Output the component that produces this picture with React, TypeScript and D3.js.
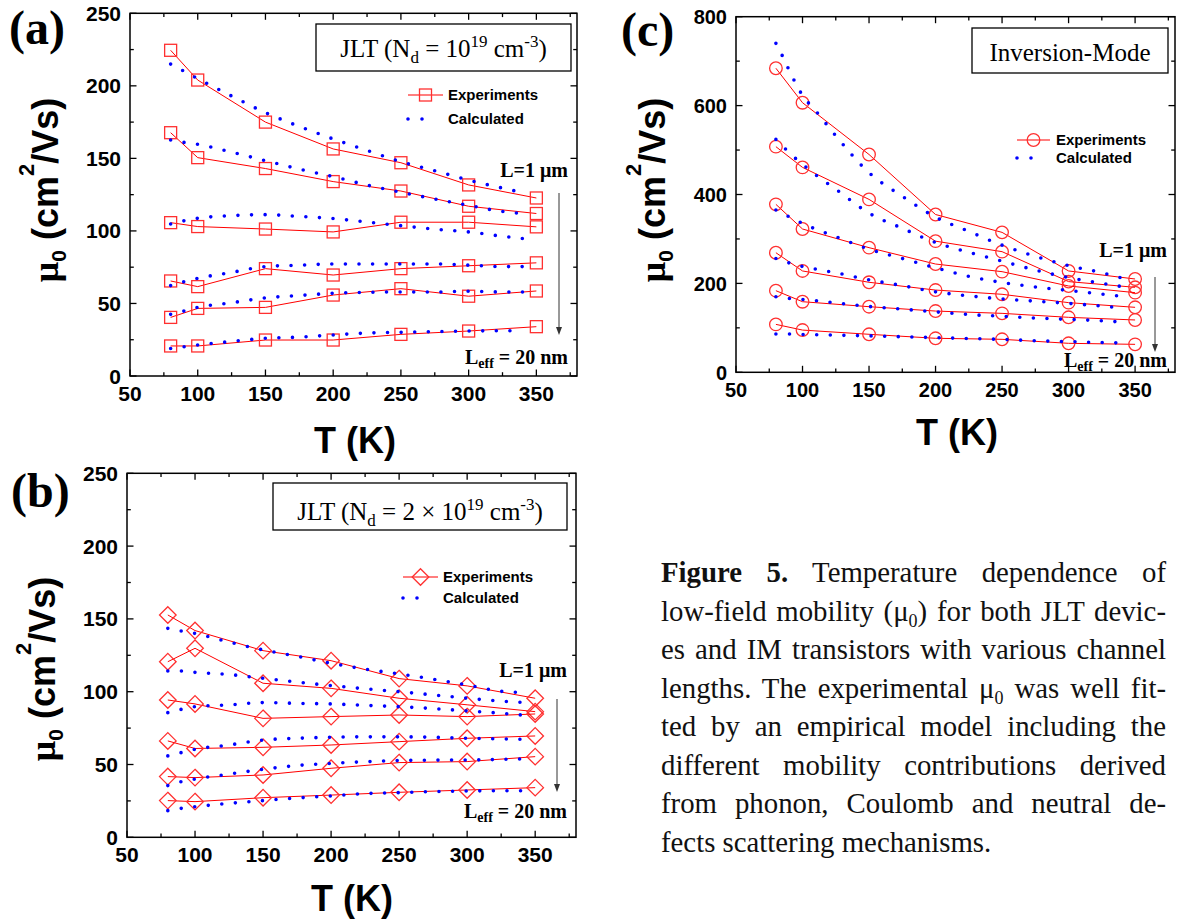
import React, { useLayoutEffect, useRef } from 'react';
import * as d3 from 'd3';

// ---------------- DATA ----------------
const expT = [80, 100, 150, 200, 250, 300, 350];
const calcTab = [80, 90, 100, 125, 150, 175, 200, 225, 250, 275, 300, 325, 340];
const calcTc = [80, 85, 90, 100, 110, 125, 150, 175, 200, 225, 250, 275, 300, 325, 340];

const xTickValues = [50, 100, 150, 200, 250, 300, 350];
const xMinorValues = [75, 125, 175, 225, 275, 325, 375];
const yTicksAB = [0, 50, 100, 150, 200, 250];
const yMinorAB = [25, 75, 125, 175, 225];
const yTicksC = [0, 200, 400, 600, 800];
const yMinorC = [100, 300, 500, 700];

// Panel (a) JLT Nd = 1e19
const aExp = [
  [224.5, 204, 175, 156.5, 147, 131.7, 122.7],
  [167.7, 150.5, 143, 134, 127.5, 117, 112],
  [105.7, 103, 101.3, 99.3, 106, 106, 102.8],
  [65.5, 61.6, 74, 69.6, 74, 76, 78],
  [40.4, 46.6, 47.3, 55.8, 60.2, 55, 58.6],
  [20.7, 20.7, 24.8, 24.8, 28.7, 31, 34],
];
const aCalc = [
  [215, 210, 205, 193, 181.5, 172, 163.4, 155.5, 147.7, 141.5, 135, 129.5, 126.4],
  [162.7, 161, 159.7, 154.3, 148.4, 142.6, 137.4, 131.6, 126.6, 122, 117.6, 113.4, 112],
  [104.8, 107, 108.7, 110.5, 111.2, 110, 108.5, 106.1, 103.6, 101.2, 99.3, 96.3, 94.7],
  [62.3, 65, 67.3, 71.4, 75.4, 76.4, 77.2, 77.2, 77.2, 77.2, 76.4, 75.4, 75.4],
  [42.5, 44.8, 47.3, 50.5, 53.8, 55.5, 57, 57.7, 57.9, 57.9, 58.4, 57.9, 57.9],
  [19, 20.2, 21.4, 23.8, 26, 26.8, 28.3, 29.6, 30.1, 30.6, 31, 31.2, 31.2],
];

// Panel (b) JLT Nd = 2e19
const bExp = [
  [152.7, 142, 128.2, 121.3, 109, 104, 95.5],
  [120.6, 129.8, 105.8, 102.3, 95.5, 91, 86.3],
  [94.3, 91.6, 81.7, 82.9, 84, 82.9, 84.7],
  [66.2, 61, 61.8, 63.4, 65.7, 68, 69.6],
  [41.7, 41, 42.8, 47.4, 51.3, 52, 55.4],
  [25.2, 24.5, 27.2, 29, 30.9, 32.5, 34.1],
];
const bCalc = [
  [143.5, 141.7, 140, 134.1, 128.7, 124.3, 119.5, 115.5, 112.2, 108.6, 104.6, 100.3, 99.4],
  [114.2, 114.2, 113.3, 111.8, 109.2, 106.6, 104.2, 102, 100, 97.8, 95.5, 93.5, 92.7],
  [85.6, 87.9, 89.7, 90.9, 92.5, 92, 91.6, 90.6, 89.7, 88.4, 86.8, 85.2, 84],
  [55.9, 58.2, 60.4, 63.4, 66.8, 68, 68.7, 69, 69, 68.7, 68, 67.6, 67.3],
  [35.5, 38.2, 40, 43.4, 46.7, 49.3, 50.8, 51.9, 52.7, 53, 53.1, 53.5, 53.8],
  [18.3, 19.9, 21, 23.3, 25.2, 27, 28.4, 30, 30.7, 31.4, 31.8, 32, 32],
];

// Panel (c) Inversion-Mode
const cExp = [
  [684, 606.5, 490, 355, 314.8, 228, 209.9],
  [507.6, 461, 389, 295, 271.4, 204, 191.2],
  [377.8, 322.4, 280.4, 243.6, 226.4, 194.2, 179.2],
  [269, 228, 202.5, 185, 175.5, 156.7, 146.2],
  [183.6, 158.8, 147.6, 137.8, 132.6, 123.7, 117.7],
  [107.8, 95, 85.5, 76.5, 74.2, 65.2, 62.9],
];
const cCalc = [
  [740, 711, 679, 623, 588, 532, 449, 396, 349, 317, 286, 261, 240, 224, 212],
  [524, 509, 494, 468, 444, 412, 358, 324, 292, 270, 250, 230, 213, 200, 193],
  [365, 357, 350, 335, 322, 305, 277, 256, 235, 216, 202, 192, 184, 176, 171],
  [256, 251, 246, 238, 232, 224, 208, 195, 181, 172, 165, 160, 155, 149, 145],
  [170, 168, 166, 164, 161, 156, 148, 142, 136, 130, 126, 122, 119, 116, 113],
  [86, 86, 86, 85, 84.5, 83.5, 82, 80, 78, 76, 74, 71, 69, 67, 66],
];

const legendLabels = ['Experiments', 'Calculated'];

// ---------------- STYLE ----------------
const SANS = '"Liberation Sans", Arial, sans-serif';
const SERIF = '"Liberation Serif", "Times New Roman", serif';
const RED = '#ff0000';
const MRED = '#ff3030';
const BLUE = '#0000ff';

type Cfg = {
  left: number; right: number; top: number; bottom: number;
  yMax: number; yTicks: number[]; yMinor: number[];
  exp: number[][]; calc: number[][]; calcT: number[];
  marker: 'square' | 'diamond' | 'circle';
  label: string; labelX: number; labelY: number;
  box: { x: number; y: number; w: number; h: number; ty: number; kind: 'a' | 'b' | 'c' };
  leg: { x1: number; x2: number; y1: number; y2: number; tx: number };
  l1: { x: number; y: number };
  arrow: { x: number; y1: number; y2: number };
  leff: { x: number; y: number };
  xTitle: { x: number; y: number };
  yTitle: { x: number; y: number };
  tickFont: number;
};

function Marker({ type, cx, cy }: { type: string; cx: number; cy: number }) {
  const common = { fill: 'none', stroke: MRED, strokeWidth: 1.3 };
  if (type === 'square') return <rect x={cx - 6} y={cy - 6} width={12} height={12} {...common} />;
  if (type === 'diamond') {
    const s = 8.3;
    return <path d={`M${cx},${cy - s}L${cx + s},${cy}L${cx},${cy + s}L${cx - s},${cy}Z`} {...common} />;
  }
  return <circle cx={cx} cy={cy} r={6.3} {...common} />;
}

function BoxText({ kind, x, y }: { kind: string; x: number; y: number }) {
  const fs = 25;
  const sub = 17;
  if (kind === 'c') {
    return (
      <text x={x} y={y} textAnchor="middle" fontFamily={SERIF} fontSize={fs}>Inversion-Mode</text>
    );
  }
  return (
    <text x={x} y={y} textAnchor="middle" fontFamily={SERIF} fontSize={fs}>
      <tspan>JLT (N</tspan>
      <tspan fontSize={sub} dy={6}>d</tspan>
      <tspan dy={-6}>{kind === 'a' ? ' = 10' : ' = 2 \u00D7 10'}</tspan>
      <tspan fontSize={sub} dy={-10}>19</tspan>
      <tspan dy={10}> cm</tspan>
      <tspan fontSize={sub} dy={-10}>-3</tspan>
      <tspan dy={10}>)</tspan>
    </text>
  );
}

function Panel({ cfg }: { cfg: Cfg }) {
  const x = d3.scaleLinear().domain([50, 380]).range([cfg.left, cfg.right]);
  const y = d3.scaleLinear().domain([0, cfg.yMax]).range([cfg.bottom, cfg.top]);
  const lineExp = d3.line<number>().x((_, i) => x(expT[i])).y((d) => y(d));
  const lineCalc = d3
    .line<number>()
    .x((_, i) => x(cfg.calcT[i]))
    .y((d) => y(d))
    .curve(d3.curveMonotoneX);
  const MAJ = 6.5;
  const MIN = 3.8;
  const tickStroke = { stroke: '#000', strokeWidth: 1.3 };
  const dotStyle = {
    fill: 'none', stroke: BLUE, strokeWidth: 3.6, strokeLinecap: 'round' as const, strokeDasharray: '0 13.6',
  };

  return (
    <g>
      <rect x={cfg.left} y={cfg.top} width={cfg.right - cfg.left} height={cfg.bottom - cfg.top}
        fill="none" stroke="#000" strokeWidth={1.5} />
      {xTickValues.map((t) => (
        <g key={'xt' + t}>
          <line x1={x(t)} x2={x(t)} y1={cfg.bottom} y2={cfg.bottom - MAJ} {...tickStroke} />
          <line x1={x(t)} x2={x(t)} y1={cfg.top} y2={cfg.top + MAJ} {...tickStroke} />
          <text x={x(t)} y={cfg.bottom + 25} textAnchor="middle" fontFamily={SANS} fontWeight="bold"
            fontSize={cfg.tickFont}>{t}</text>
        </g>
      ))}
      {xMinorValues.map((t) => (
        <g key={'xm' + t}>
          <line x1={x(t)} x2={x(t)} y1={cfg.bottom} y2={cfg.bottom - MIN} {...tickStroke} />
          <line x1={x(t)} x2={x(t)} y1={cfg.top} y2={cfg.top + MIN} {...tickStroke} />
        </g>
      ))}
      {cfg.yTicks.map((t) => (
        <g key={'yt' + t}>
          <line x1={cfg.left} x2={cfg.left + MAJ} y1={y(t)} y2={y(t)} {...tickStroke} />
          <line x1={cfg.right} x2={cfg.right - MAJ} y1={y(t)} y2={y(t)} {...tickStroke} />
          <text x={cfg.left - 9} y={y(t)} dy="0.36em" textAnchor="end" fontFamily={SANS} fontWeight="bold"
            fontSize={cfg.tickFont}>{t}</text>
        </g>
      ))}
      {cfg.yMinor.map((t) => (
        <g key={'ym' + t}>
          <line x1={cfg.left} x2={cfg.left + MIN} y1={y(t)} y2={y(t)} {...tickStroke} />
          <line x1={cfg.right} x2={cfg.right - MIN} y1={y(t)} y2={y(t)} {...tickStroke} />
        </g>
      ))}

      {cfg.exp.map((s, si) => (
        <g key={'e' + si}>
          <path d={lineExp(s) || ''} fill="none" stroke={RED} strokeWidth={1} />
          {s.map((v, i) => (
            <Marker key={i} type={cfg.marker} cx={x(expT[i])} cy={y(v)} />
          ))}
        </g>
      ))}
      {cfg.calc.map((s, si) => (
        <path key={'c' + si} d={lineCalc(s) || ''} {...dotStyle} />
      ))}

      <rect x={cfg.box.x} y={cfg.box.y} width={cfg.box.w} height={cfg.box.h} fill="#fff" stroke="#000"
        strokeWidth={1.3} />
      <BoxText kind={cfg.box.kind} x={cfg.box.x + cfg.box.w / 2} y={cfg.box.ty} />

      <line x1={cfg.leg.x1} x2={cfg.leg.x2} y1={cfg.leg.y1} y2={cfg.leg.y1} stroke={RED} strokeWidth={1.2} />
      <Marker type={cfg.marker} cx={(cfg.leg.x1 + cfg.leg.x2) / 2} cy={cfg.leg.y1} />
      <text x={cfg.leg.tx} y={cfg.leg.y1 + 5} fontFamily={SANS} fontWeight="bold" fontSize={15}>{legendLabels[0]}</text>
      <path d={`M${cfg.leg.x1},${cfg.leg.y2}L${cfg.leg.x1 + 28},${cfg.leg.y2}`} {...dotStyle} strokeDasharray="0 14" />
      <text x={cfg.leg.tx} y={cfg.leg.y2 + 5} fontFamily={SANS} fontWeight="bold" fontSize={15}>{legendLabels[1]}</text>

      <text x={cfg.l1.x} y={cfg.l1.y} textAnchor="end" fontFamily={SERIF} fontWeight="bold" fontSize={20}>L=1 μm</text>
      <line x1={cfg.arrow.x} x2={cfg.arrow.x} y1={cfg.arrow.y1} y2={cfg.arrow.y2 - 6} stroke="#333" strokeWidth={1} />
      <path d={`M${cfg.arrow.x - 3},${cfg.arrow.y2 - 8}L${cfg.arrow.x + 3},${cfg.arrow.y2 - 8}L${cfg.arrow.x},${cfg.arrow.y2}Z`} fill="#333" />
      <text x={cfg.leff.x} y={cfg.leff.y} textAnchor="end" fontFamily={SERIF} fontWeight="bold" fontSize={20}>
        <tspan>L</tspan>
        <tspan fontSize={14} dy={4}>eff</tspan>
        <tspan dy={-4}> = 20 nm</tspan>
      </text>

      <text x={cfg.labelX} y={cfg.labelY} fontFamily={SERIF} fontWeight="bold" fontSize={48}>{cfg.label}</text>

      <text x={cfg.xTitle.x} y={cfg.xTitle.y} textAnchor="middle" fontFamily={SANS} fontWeight="bold" fontSize={36}>T (K)</text>
      <text transform={`translate(${cfg.yTitle.x},${cfg.yTitle.y}) rotate(-90)`} textAnchor="middle"
        fontFamily={SANS} fontWeight="bold" fontSize={36}>
        <tspan fontFamily={SERIF}>μ</tspan>
        <tspan fontSize={21} dy={8}>0</tspan>
        <tspan dy={-8}> (cm</tspan>
        <tspan fontSize={22} dy={-24}>2</tspan>
        <tspan dy={24}>/Vs)</tspan>
      </text>
    </g>
  );
}

const panels: Cfg[] = [
  {
    left: 130, right: 577, top: 13.3, bottom: 376, yMax: 250, yTicks: yTicksAB, yMinor: yMinorAB,
    exp: aExp, calc: aCalc, calcT: calcTab, marker: 'square', label: '(a)', labelX: 9, labelY: 44,
    box: { x: 316, y: 24, w: 255, h: 47, ty: 57, kind: 'a' },
    leg: { x1: 408, x2: 443, y1: 95, y2: 119, tx: 448 },
    l1: { x: 568, y: 177 }, arrow: { x: 559, y1: 193, y2: 335 }, leff: { x: 568, y: 364 },
    xTitle: { x: 355, y: 453 }, yTitle: { x: 58, y: 190 }, tickFont: 21,
  },
  {
    left: 127, right: 576, top: 473.3, bottom: 837.3, yMax: 250, yTicks: yTicksAB, yMinor: yMinorAB,
    exp: bExp, calc: bCalc, calcT: calcTab, marker: 'diamond', label: '(b)', labelX: 11, labelY: 507,
    box: { x: 273, y: 483, w: 294, h: 47, ty: 520, kind: 'b' },
    leg: { x1: 403, x2: 438, y1: 577, y2: 598, tx: 443 },
    l1: { x: 567, y: 677 }, arrow: { x: 557, y1: 699, y2: 792 }, leff: { x: 567, y: 818 },
    xTitle: { x: 352, y: 911 }, yTitle: { x: 55, y: 669 }, tickFont: 21,
  },
  {
    left: 736, right: 1175, top: 16.7, bottom: 372.3, yMax: 800, yTicks: yTicksC, yMinor: yMinorC,
    exp: cExp, calc: cCalc, calcT: calcTc, marker: 'circle', label: '(c)', labelX: 621, labelY: 46,
    box: { x: 972, y: 28, w: 196, h: 45, ty: 61, kind: 'c' },
    leg: { x1: 1017, x2: 1050, y1: 140, y2: 158, tx: 1056 },
    l1: { x: 1167, y: 257 }, arrow: { x: 1155, y1: 277, y2: 352 }, leff: { x: 1167, y: 367 },
    xTitle: { x: 957, y: 445 }, yTitle: { x: 665, y: 190 }, tickFont: 20,
  },
];

const CAP_X = 661;
const CAP_W = 505;
const CAP_Y0 = 582;
const CAP_DY = 38.5;

function Caption() {
  const ref = useRef<SVGGElement>(null);
  useLayoutEffect(() => {
    const g = ref.current;
    if (!g) return;
    g.querySelectorAll('text[data-justify="1"]').forEach((node) => {
      const el = node as SVGTextElement;
      el.style.wordSpacing = '0px';
      const w = el.getComputedTextLength();
      const spaces = ((el.textContent || '').match(/ /g) || []).length;
      if (spaces > 0) el.style.wordSpacing = (CAP_W - w) / spaces + 'px';
    });
  }, []);
  const fs = 28.8;
  const sub = <tspan fontSize={18} dy={6}>0</tspan>;
  return (
    <g ref={ref} fontFamily={SERIF} fontSize={fs} fill="#111">
      <text x={CAP_X} y={CAP_Y0} data-justify="1">
        <tspan fontWeight="bold">Figure 5.</tspan> Temperature dependence of
      </text>
      <text x={CAP_X} y={CAP_Y0 + CAP_DY} data-justify="1">
        low-field mobility (μ{sub}<tspan dy={-6}>) for both JLT devic-</tspan>
      </text>
      <text x={CAP_X} y={CAP_Y0 + CAP_DY * 2} data-justify="1">es and IM transistors with various channel</text>
      <text x={CAP_X} y={CAP_Y0 + CAP_DY * 3} data-justify="1">
        lengths. The experimental μ{sub}<tspan dy={-6}> was well fit-</tspan>
      </text>
      <text x={CAP_X} y={CAP_Y0 + CAP_DY * 4} data-justify="1">ted by an empirical model including the</text>
      <text x={CAP_X} y={CAP_Y0 + CAP_DY * 5} data-justify="1">different mobility contributions derived</text>
      <text x={CAP_X} y={CAP_Y0 + CAP_DY * 6} data-justify="1">from phonon, Coulomb and neutral de-</text>
      <text x={CAP_X} y={CAP_Y0 + CAP_DY * 7}>fects scattering mechanisms.</text>
    </g>
  );
}

export default function App() {
  return (
    <svg width={1178} height={922} viewBox="0 0 1178 922"
      style={{ position: 'absolute', left: 0, top: 0, background: '#fff' }}>
      <rect x={0} y={0} width={1178} height={922} fill="#fff" />
      {panels.map((p, i) => (
        <Panel key={i} cfg={p} />
      ))}
      <Caption />
    </svg>
  );
}
